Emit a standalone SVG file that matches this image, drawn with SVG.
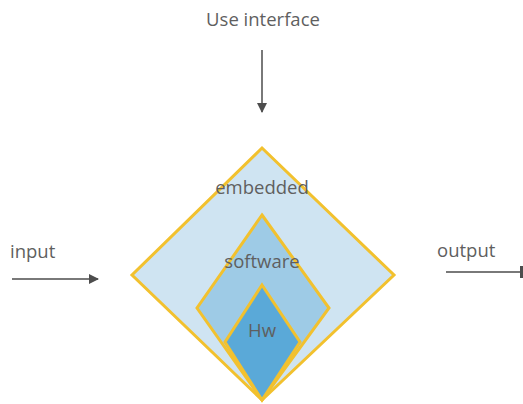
<svg xmlns="http://www.w3.org/2000/svg" width="523" height="404" viewBox="0 0 523 404">
  <style>
    .lbl { font-family: "Open Sans", "Noto Sans", sans-serif; font-size: 18.5px; fill: #5f5f5f; }
    .layer { stroke: #f2c12e; stroke-width: 3; stroke-linejoin: miter; }
    .wire { stroke: #4d4d4d; stroke-width: 1.5; fill: none; }
  </style>
  <defs>
    <marker id="head" markerWidth="10" markerHeight="10" refX="9" refY="5" orient="auto" markerUnits="userSpaceOnUse">
      <path d="M0,0 L10,5 L0,10 Z" fill="#4d4d4d"/>
    </marker>
  </defs>
  <rect width="523" height="404" fill="#ffffff"/>

  <g id="connectors">
    <line class="wire" x1="262" y1="50" x2="262" y2="112" marker-end="url(#head)"/>
    <line class="wire" x1="12" y1="279" x2="98" y2="279" marker-end="url(#head)"/>
    <line class="wire" x1="446" y1="272" x2="521" y2="272"/>
    <line x1="521.5" y1="266" x2="521.5" y2="278" stroke="#4d4d4d" stroke-width="3"/>
  </g>

  <g id="embedded">
    <polygon class="layer" points="262,148 394,275 262,400 132,275" fill="#cfe4f2"/>
    <text class="lbl" x="262" y="194" text-anchor="middle">embedded</text>
  </g>
  <g id="software">
    <polygon class="layer" points="262,215 329,308 262,400 197,308" fill="#9ecbe6"/>
    <text class="lbl" x="262" y="268" text-anchor="middle">software</text>
  </g>
  <g id="hw">
    <polygon class="layer" points="262,285 300,342 262,400 225,342" fill="#5aa9d8"/>
    <text class="lbl" x="262" y="337" text-anchor="middle">Hw</text>
  </g>

  <g id="use-interface">
    <text class="lbl" x="263" y="26" text-anchor="middle">Use interface</text>
  </g>
  <g id="input">
    <text class="lbl" x="10" y="258">input</text>
  </g>
  <g id="output">
    <text class="lbl" x="437" y="257">output</text>
  </g>
</svg>
